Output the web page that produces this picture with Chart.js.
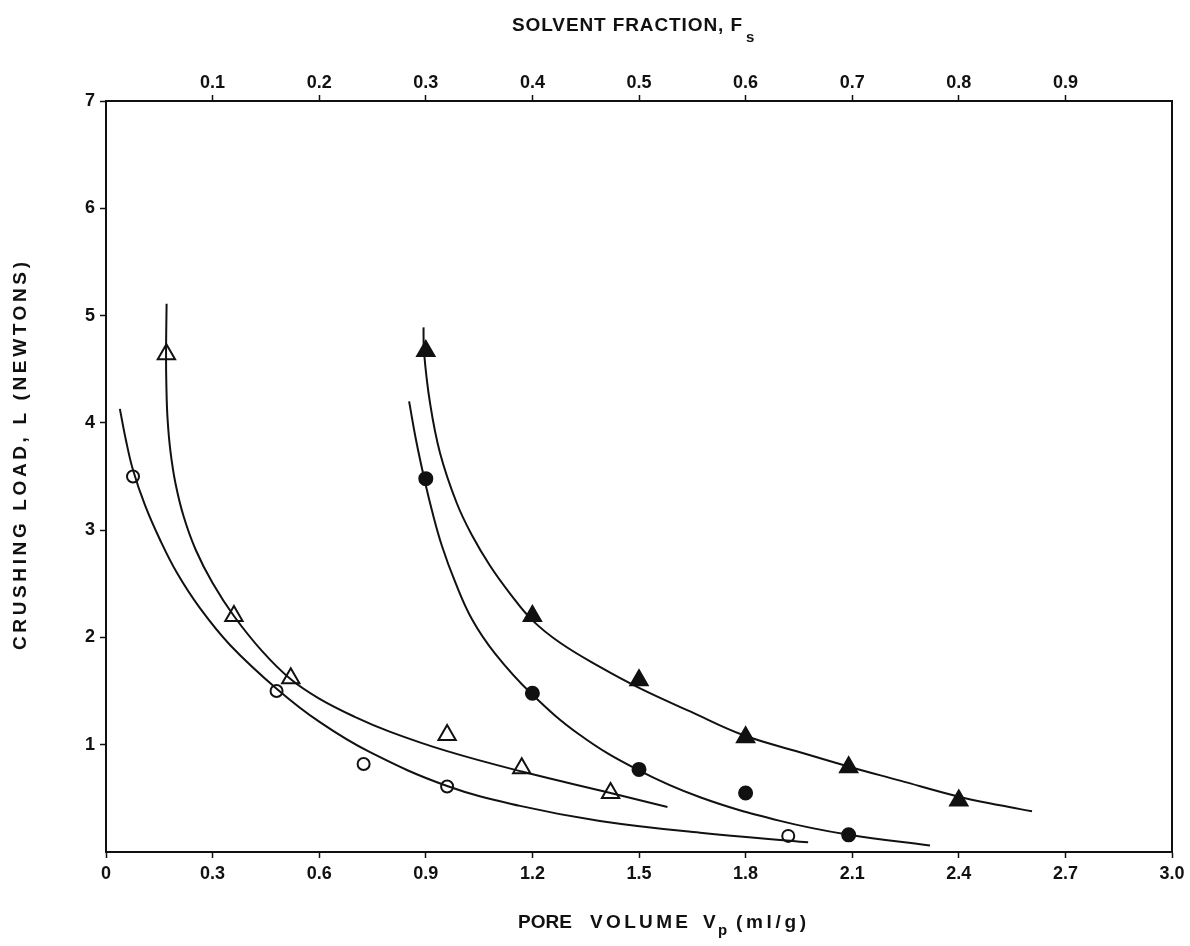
<!DOCTYPE html>
<html>
<head>
<meta charset="utf-8">
<script src="https://cdn.jsdelivr.net/npm/chart.js@4.4.1/dist/chart.umd.min.js"></script>
<style>
  html, body { margin: 0; padding: 0; background: #fff; }
  #wrap { width: 1190px; height: 946px; position: relative; }
</style>
</head>
<body>
<div id="wrap"><canvas id="chart"></canvas></div>
<script>
// axis ticks
const poreTicks = [0, 0.3, 0.6, 0.9, 1.2, 1.5, 1.8, 2.1, 2.4, 2.7, 3.0];
const fracTicks = [0.1, 0.2, 0.3, 0.4, 0.5, 0.6, 0.7, 0.8, 0.9];
const loadTicks = [1, 2, 3, 4, 5, 6, 7];

// measured points (pore volume, crushing load)
const openCircleX = [0.076, 0.48, 0.725, 0.96, 1.92];
const openCircleY = [3.50, 1.50, 0.82, 0.61, 0.15];
const openTriX = [0.17, 0.36, 0.52, 0.96, 1.17, 1.42];
const openTriY = [4.64, 2.20, 1.62, 1.09, 0.78, 0.55];
const fullCircleX = [0.90, 1.20, 1.50, 1.80, 2.09];
const fullCircleY = [3.48, 1.48, 0.77, 0.55, 0.16];
const fullTriX = [0.90, 1.20, 1.50, 1.80, 2.09, 2.40];
const fullTriY = [4.67, 2.20, 1.60, 1.07, 0.79, 0.48];

// fitted curves
const curveAX = [0.039, 0.056, 0.076, 0.11, 0.152, 0.20, 0.265, 0.349, 0.481, 0.602, 0.743, 0.96, 1.165, 1.39, 1.672, 1.976];
const curveAY = [4.13, 3.84, 3.56, 3.23, 2.91, 2.60, 2.27, 1.93, 1.52, 1.21, 0.93, 0.615, 0.43, 0.29, 0.18, 0.09];
const curveBX = [0.1705, 0.169, 0.1699, 0.1731, 0.1813, 0.1959, 0.219, 0.2527, 0.300, 0.36, 0.44, 0.52, 0.60, 0.70, 0.80, 0.96, 1.17, 1.42, 1.58];
const curveBY = [5.11, 4.64, 4.35, 4.045, 3.737, 3.43, 3.122, 2.815, 2.507, 2.20, 1.87, 1.61, 1.43, 1.26, 1.12, 0.94, 0.75, 0.55, 0.42];
const curveCX = [0.853, 0.8725, 0.895, 0.9175, 0.9457, 0.9823, 1.03, 1.095, 1.196, 1.334, 1.494, 1.672, 1.897, 2.091, 2.319];
const curveCY = [4.20, 3.84, 3.49, 3.18, 2.85, 2.52, 2.17, 1.85, 1.48, 1.09, 0.77, 0.51, 0.29, 0.16, 0.06];
const curveDX = [0.8936, 0.895, 0.9119, 0.940, 0.987, 1.030, 1.0808, 1.137, 1.198, 1.278, 1.390, 1.503, 1.644, 1.793, 1.953, 2.086, 2.235, 2.395, 2.516, 2.606];
const curveDY = [4.89, 4.66, 4.185, 3.72, 3.253, 2.952, 2.668, 2.409, 2.166, 1.95, 1.725, 1.525, 1.31, 1.09, 0.93, 0.80, 0.665, 0.52, 0.435, 0.38];

const FONT = '"Liberation Sans", Arial, sans-serif';
const INK = '#111';

const toPoints = (xs, ys) => xs.map((x, i) => ({ x: x, y: ys[i] }));

const curve = (xs, ys) => ({
  data: toPoints(xs, ys),
  showLine: true,
  borderColor: INK,
  borderWidth: 2,
  pointRadius: 0,
  tension: 0.4,
  fill: false
});

const marks = (xs, ys, style, filled, r) => ({
  data: toPoints(xs, ys),
  showLine: false,
  pointStyle: style,
  pointRadius: r,
  pointBorderWidth: 2,
  pointBorderColor: INK,
  pointBackgroundColor: filled ? INK : '#fff'
});

// draw text stretched to a given width with letter spacing
const spaced = function(ctx, text, x, y, width) {
  ctx.letterSpacing = '0px';
  const w = ctx.measureText(text).width;
  const gap = text.length > 1 ? (width - w) / (text.length - 1) : 0;
  ctx.letterSpacing = gap + 'px';
  ctx.fillText(text, x, y);
  ctx.letterSpacing = '0px';
};

const axisTitles = {
  id: 'axisTitles',
  afterDraw(chart) {
    const ctx = chart.ctx;
    ctx.save();
    ctx.fillStyle = INK;
    ctx.textAlign = 'left';
    ctx.textBaseline = 'alphabetic';

    // top title
    ctx.font = 'bold 19px ' + FONT;
    spaced(ctx, 'SOLVENT FRACTION, F', 512, 31, 230);
    ctx.font = 'bold 15px ' + FONT;
    ctx.fillText('s', 746, 42);

    // bottom title
    ctx.font = 'bold 19px ' + FONT;
    spaced(ctx, 'PORE', 518, 928, 54);
    spaced(ctx, 'VOLUME', 590, 928, 98);
    ctx.fillText('V', 703, 928);
    ctx.font = 'bold 15px ' + FONT;
    ctx.fillText('p', 718, 935);
    ctx.font = 'bold 19px ' + FONT;
    spaced(ctx, '(ml/g)', 736, 928, 70);

    // left title
    ctx.translate(26, 650);
    ctx.rotate(-Math.PI / 2);
    ctx.font = 'bold 19px ' + FONT;
    spaced(ctx, 'CRUSHING LOAD, L (NEWTONS)', 0, 0, 388);
    ctx.restore();
  }
};

const tickFont = { family: FONT, size: 18, weight: 'bold' };
const gridStyle = { drawOnChartArea: false, color: INK, tickLength: 6, tickWidth: 1.5 };
const borderStyle = { color: INK, width: 2 };

new Chart(document.getElementById('chart'), {
  type: 'scatter',
  data: {
    datasets: [
      curve(curveAX, curveAY),
      curve(curveBX, curveBY),
      curve(curveCX, curveCY),
      curve(curveDX, curveDY),
      marks(openCircleX, openCircleY, 'circle', false, 6),
      marks(openTriX, openTriY, 'triangle', false, 10),
      marks(fullCircleX, fullCircleY, 'circle', true, 6.5),
      marks(fullTriX, fullTriY, 'triangle', true, 10)
    ]
  },
  plugins: [axisTitles],
  options: {
    responsive: true,
    maintainAspectRatio: false,
    animation: false,
    layout: { padding: 0 },
    plugins: {
      legend: { display: false },
      tooltip: { enabled: false },
      title: { display: false }
    },
    scales: {
      x: {
        type: 'linear',
        position: 'bottom',
        min: 0,
        max: 3,
        afterBuildTicks: s => { s.ticks = poreTicks.map(v => ({ value: v })); },
        afterFit: s => { s.height = 94; },
        ticks: {
          color: INK, font: tickFont, padding: 5, maxRotation: 0, autoSkip: false,
          callback: v => v === 0 ? '0' : v.toFixed(1)
        },
        grid: gridStyle,
        border: borderStyle
      },
      x2: {
        type: 'linear',
        position: 'top',
        min: 0,
        max: 1,
        afterBuildTicks: s => { s.ticks = fracTicks.map(v => ({ value: v })); },
        afterFit: s => { s.height = 101; },
        ticks: {
          color: INK, font: tickFont, padding: 1, maxRotation: 0, autoSkip: false,
          callback: v => v.toFixed(1)
        },
        grid: gridStyle,
        border: borderStyle
      },
      y: {
        type: 'linear',
        position: 'left',
        min: 0,
        max: 7,
        afterBuildTicks: s => { s.ticks = loadTicks.map(v => ({ value: v })); },
        afterFit: s => { s.width = 106; },
        ticks: { color: INK, font: tickFont, padding: 5, callback: v => String(v) },
        grid: gridStyle,
        border: borderStyle
      },
      y2: {
        type: 'linear',
        position: 'right',
        min: 0,
        max: 7,
        afterFit: s => { s.width = 18; },
        ticks: { display: false },
        grid: { drawOnChartArea: false, drawTicks: false },
        border: borderStyle
      }
    }
  }
});
</script>
</body>
</html>
